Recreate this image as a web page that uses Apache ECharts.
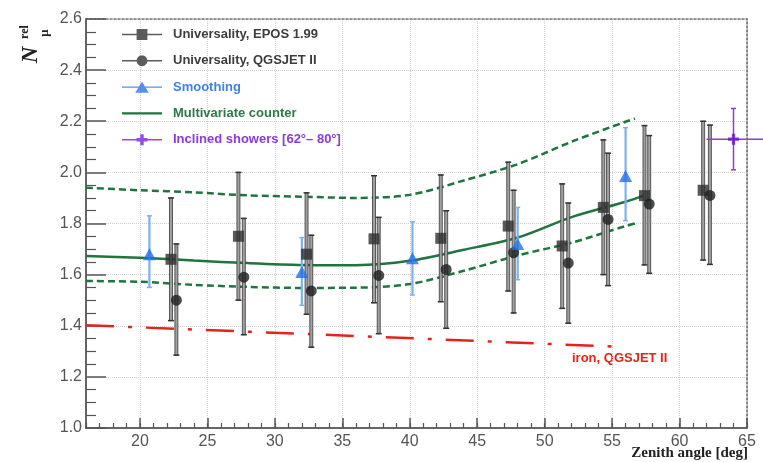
<!DOCTYPE html>
<html><head><meta charset="utf-8">
<script src="https://cdn.jsdelivr.net/npm/echarts@6/dist/echarts.min.js"></script>
<style>html,body{margin:0;padding:0;background:#fff}#c{width:763px;height:462px}</style>
</head><body><div id="c"></div>
<script>
// ---- data ----
const eposX  = [22.3, 27.3, 32.35, 37.35, 42.3, 47.3, 51.3, 54.35, 57.4, 61.75];
const eposY  = [1.66, 1.75, 1.68, 1.74, 1.742, 1.79, 1.712, 1.863, 1.909, 1.93];
const eposLo = [1.42, 1.50, 1.445, 1.49, 1.494, 1.536, 1.468, 1.60, 1.638, 1.657];
const eposHi = [1.90, 2.00, 1.92, 1.987, 1.99, 2.04, 1.955, 2.127, 2.183, 2.20];

const qgsX  = [22.7, 27.7, 32.7, 37.7, 42.7, 47.7, 51.75, 54.7, 57.75, 62.25];
const qgsY  = [1.50, 1.59, 1.536, 1.597, 1.62, 1.686, 1.645, 1.816, 1.876, 1.91];
const qgsLo = [1.285, 1.365, 1.316, 1.369, 1.39, 1.45, 1.41, 1.557, 1.605, 1.64];
const qgsHi = [1.72, 1.82, 1.754, 1.824, 1.85, 1.93, 1.88, 2.075, 2.144, 2.185];

const smoothX  = [20.7, 32.0, 40.2, 48.0, 56.0];
const smoothY  = [1.68, 1.61, 1.664, 1.72, 1.986];
const smoothLo = [1.55, 1.48, 1.52, 1.58, 1.811];
const smoothHi = [1.83, 1.745, 1.807, 1.863, 2.175];

const inclX = [64.0], inclY = [2.13], inclYLo = [2.01], inclYHi = [2.25], inclXLo = [62.0], inclXHi = [80];

const mvX     = [16, 20, 24, 28, 32, 36, 40, 44, 48, 52, 56, 57.4];
const mvY     = [1.673, 1.666, 1.655, 1.645, 1.638, 1.637, 1.654, 1.697, 1.745, 1.825, 1.885, 1.91];
const mvBandX = [16, 20, 24, 28, 32, 36, 40, 44, 48, 52, 56, 56.7];
const mvUp    = [1.94, 1.93, 1.922, 1.91, 1.905, 1.90, 1.912, 1.968, 2.032, 2.12, 2.198, 2.21];
const mvDown  = [1.575, 1.572, 1.56, 1.552, 1.548, 1.549, 1.563, 1.615, 1.675, 1.725, 1.79, 1.80];

const ironX = [16, 36, 55.3];
const ironY = [1.402, 1.36, 1.318];

const xLabels = [20, 25, 30, 35, 40, 45, 50, 55, 60, 65];

// ---- helpers ----
const zip2 = (a, b) => a.map((v, i) => [v, b[i]]);
const zip3 = (a, b, c) => a.map((v, i) => [v, b[i], c[i]]);

function blackErr(params, api) {
  const x = api.value(0);
  const t = api.coord([x, api.value(2)]);
  const b = api.coord([x, api.value(1)]);
  return { type: 'group', children: [
    { type: 'rect', shape: { x: t[0] - 1.5, y: t[1], width: 3, height: b[1] - t[1] },
      style: { fill: '#a0a0a0', stroke: '#3a3a3a', lineWidth: 0.8 } },
    { type: 'line', shape: { x1: t[0] - 3, y1: t[1], x2: t[0] + 3, y2: t[1] }, style: { stroke: '#333', lineWidth: 1.5 } },
    { type: 'line', shape: { x1: b[0] - 3, y1: b[1], x2: b[0] + 3, y2: b[1] }, style: { stroke: '#333', lineWidth: 1.5 } }
  ]};
}
function blueErr(params, api) {
  const x = api.value(0);
  const t = api.coord([x, api.value(2)]);
  const b = api.coord([x, api.value(1)]);
  return { type: 'group', children: [
    { type: 'line', shape: { x1: t[0], y1: t[1], x2: b[0], y2: b[1] }, style: { stroke: '#7fb0ee', lineWidth: 2.2 } },
    { type: 'line', shape: { x1: t[0] - 2.5, y1: t[1], x2: t[0] + 2.5, y2: t[1] }, style: { stroke: '#7fb0ee', lineWidth: 1.5 } },
    { type: 'line', shape: { x1: b[0] - 2.5, y1: b[1], x2: b[0] + 2.5, y2: b[1] }, style: { stroke: '#7fb0ee', lineWidth: 1.5 } }
  ]};
}
function purpleErr(params, api) {
  const x = api.value(0), y = api.value(1);
  const t = api.coord([x, api.value(3)]);
  const b = api.coord([x, api.value(2)]);
  const l = api.coord([api.value(4), y]);
  const r = api.coord([api.value(5), y]);
  const c = '#8b3fd6';
  return { type: 'group', children: [
    { type: 'line', shape: { x1: t[0], y1: t[1], x2: b[0], y2: b[1] }, style: { stroke: c, lineWidth: 1.5 } },
    { type: 'line', shape: { x1: l[0], y1: l[1], x2: r[0], y2: r[1] }, style: { stroke: c, lineWidth: 1.5 } },
    { type: 'line', shape: { x1: t[0] - 2.5, y1: t[1], x2: t[0] + 2.5, y2: t[1] }, style: { stroke: c, lineWidth: 1.5 } },
    { type: 'line', shape: { x1: b[0] - 2.5, y1: b[1], x2: b[0] + 2.5, y2: b[1] }, style: { stroke: c, lineWidth: 1.5 } }
  ]};
}

// circle polygon for the legend icon
let circ = '';
for (let k = 0; k < 24; k++) {
  const a = k / 24 * Math.PI * 2;
  circ += (k === 0 ? 'M' : 'L') + (20 + 5.4 * Math.cos(a)).toFixed(2) + ',' + (6 + 5.4 * Math.sin(a)).toFixed(2);
}
circ += 'Z';

const crossPath = 'path://M3.5,0H6.5V3.5H10V6.5H6.5V10H3.5V6.5H0V3.5H3.5Z';
const icoSquare = 'path://M20,0L20,12M0,5.3H40V6.7H0Z M14.6,0.6H25.4V11.4H14.6Z';
const icoCircle = 'path://M20,0L20,12M0,5.3H40V6.7H0Z ' + circ;
const icoTri    = 'path://M20,0L20,12M0,5.3H40V6.7H0Z M20,0.3L26.7,11.7H13.3Z';
const icoLine   = 'path://M20,0L20,12M0,4.8H40V7.2H0Z';
const icoCross  = 'path://M20,0L20,12M0,5.3H40V6.7H0Z M18.3,0.5H21.7V4.3H25.5V7.7H21.7V11.5H18.3V7.7H14.5V4.3H18.3Z';

const FONT = '"Liberation Sans", Arial, sans-serif';
const chart = echarts.init(document.getElementById('c'));
chart.setOption({
  animation: false,
  backgroundColor: '#fff',
  grid: { left: 86, right: 16, top: 19, bottom: 34, containLabel: false },
  legend: {
    orient: 'vertical', left: 122, top: 28, padding: 0,
    itemWidth: 40, itemHeight: 12, itemGap: 13.3,
    textStyle: { fontFamily: FONT, fontSize: 13, fontWeight: 'bold', padding: [0, 0, 0, 6] },
    data: [
      { name: 'Universality, EPOS 1.99', icon: icoSquare, itemStyle: { color: '#333', borderWidth: 0 }, textStyle: { color: '#3d3d3d' } },
      { name: 'Universality, QGSJET II', icon: icoCircle, itemStyle: { color: '#333', borderWidth: 0 }, textStyle: { color: '#3d3d3d' } },
      { name: 'Smoothing', icon: icoTri, itemStyle: { color: '#2a74e6', borderWidth: 0 }, textStyle: { color: '#3f82e6' } },
      { name: 'Multivariate counter', icon: icoLine, itemStyle: { color: '#1f7440', borderWidth: 0 }, textStyle: { color: '#2b7a48' } },
      { name: 'Inclined showers [62°– 80°]', icon: icoCross, itemStyle: { color: '#7a22d0', borderWidth: 0 }, textStyle: { color: '#8a3ad8' } }
    ]
  },
  xAxis: [
    { type: 'value', min: 16, max: 65, splitNumber: 10, position: 'bottom',
      axisLine: { onZero: false, lineStyle: { color: '#666', width: 2 } },
      axisTick: { inside: true, length: 10, lineStyle: { color: '#555', width: 1.5 } },
      axisLabel: { showMinLabel: false, color: '#555', fontSize: 16, fontFamily: FONT, margin: 6,
        formatter: v => (xLabels.indexOf(v) >= 0 ? String(v) : '') },
      splitLine: { show: true, lineStyle: { color: '#d0d0d0', type: 'dotted', width: 1 } } },
    { type: 'value', min: 16, max: 65, interval: 1, position: 'bottom',
      axisLine: { show: false, onZero: false },
      axisTick: { inside: true, length: 5, lineStyle: { color: '#555', width: 1.2 } },
      axisLabel: { show: false }, splitLine: { show: false } },
    { type: 'value', min: 16, max: 65, position: 'top',
      axisLine: { show: true, onZero: false, lineStyle: { color: '#777', width: 1.5, type: [2, 2] } },
      axisTick: { show: false }, axisLabel: { show: false }, splitLine: { show: false } }
  ],
  yAxis: [
    { type: 'value', min: 1.0, max: 2.6, interval: 0.2, position: 'left',
      axisLine: { show: true, onZero: false, lineStyle: { color: '#666', width: 2 } },
      axisTick: { inside: true, length: 20, lineStyle: { color: '#555', width: 1.5 } },
      minorTick: { show: true, splitNumber: 4, length: 10, lineStyle: { color: '#555', width: 1.2 } },
      axisLabel: { color: '#555', fontSize: 16, fontFamily: FONT, margin: 4, formatter: v => v.toFixed(1) },
      splitLine: { show: true, lineStyle: { color: '#d0d0d0', type: 'dotted', width: 1 } } },
    { type: 'value', min: 1.0, max: 2.6, position: 'right',
      axisLine: { show: true, onZero: false, lineStyle: { color: '#666', width: 1.5, type: [2, 2] } },
      axisTick: { show: false }, axisLabel: { show: false }, splitLine: { show: false } }
  ],
  series: [
    { name: 'mvUp', type: 'line', data: zip2(mvBandX, mvUp), showSymbol: false, smooth: 0.3, z: 2,
      lineStyle: { color: '#1f7440', width: 2.5, type: [7, 4] }, itemStyle: { color: '#1f7440' } },
    { name: 'mvDown', type: 'line', data: zip2(mvBandX, mvDown), showSymbol: false, smooth: 0.3, z: 2,
      lineStyle: { color: '#1f7440', width: 2.5, type: [7, 4] }, itemStyle: { color: '#1f7440' } },
    { name: 'Multivariate counter', type: 'line', data: zip2(mvX, mvY), showSymbol: false, smooth: 0.3, z: 2,
      lineStyle: { color: '#1f7440', width: 2.5 }, itemStyle: { color: '#1f7440' } },
    { name: 'iron', type: 'line', data: zip2(ironX, ironY), showSymbol: false, z: 2,
      lineStyle: { color: '#e5231b', width: 2.5, type: [28, 14, 4, 14] }, itemStyle: { color: '#e5231b' } },
    { name: 'eposErr', type: 'custom', renderItem: blackErr, data: zip3(eposX, eposLo, eposHi), encode: { x: 0, y: [1, 2] }, z: 3 },
    { name: 'qgsErr', type: 'custom', renderItem: blackErr, data: zip3(qgsX, qgsLo, qgsHi), encode: { x: 0, y: [1, 2] }, z: 3 },
    { name: 'smoothErr', type: 'custom', renderItem: blueErr, data: zip3(smoothX, smoothLo, smoothHi), encode: { x: 0, y: [1, 2] }, z: 3 },
    { name: 'inclErr', type: 'custom', renderItem: purpleErr, clip: false,
      data: inclX.map((v, i) => [v, inclY[i], inclYLo[i], inclYHi[i], inclXLo[i], inclXHi[i]]),
      encode: { x: 0, y: 1 }, z: 3 },
    { name: 'Universality, EPOS 1.99', type: 'scatter', data: zip2(eposX, eposY), symbol: 'rect', symbolSize: 11, z: 5,
      itemStyle: { color: '#2e2e2e' } },
    { name: 'Universality, QGSJET II', type: 'scatter', data: zip2(qgsX, qgsY), symbol: 'circle', symbolSize: 11, z: 5,
      itemStyle: { color: '#1e1e1e' } },
    { name: 'Smoothing', type: 'scatter', data: zip2(smoothX, smoothY), symbol: 'triangle', symbolSize: [13, 12], z: 5,
      itemStyle: { color: '#1f6fe8' } },
    { name: 'Inclined showers [62°– 80°]', type: 'scatter', data: zip2(inclX, inclY), symbol: crossPath, symbolSize: 11, z: 5,
      itemStyle: { color: '#6a12c8' } }
  ],
  graphic: [
    { type: 'text', x: 31, y: 55, rotation: Math.PI / 2,
      style: { text: 'N', font: 'italic bold 23px "Liberation Serif", serif', fill: '#222', textAlign: 'center', textVerticalAlign: 'middle' } },
    { type: 'text', x: 25, y: 32, rotation: Math.PI / 2,
      style: { text: 'rel', font: 'bold 12px "Liberation Serif", serif', fill: '#222', textAlign: 'center', textVerticalAlign: 'middle' } },
    { type: 'text', x: 45, y: 33, rotation: Math.PI / 2,
      style: { text: 'μ', font: 'bold 13px "Liberation Serif", serif', fill: '#222', textAlign: 'center', textVerticalAlign: 'middle' } },
    { type: 'text', x: 748, y: 453,
      style: { text: 'Zenith angle [deg]', font: 'bold 15px "Liberation Serif", serif', fill: '#222', textAlign: 'right', textVerticalAlign: 'middle' } },
    { type: 'text', x: 572, y: 358,
      style: { text: 'iron, QGSJET II', font: 'bold 13px "Liberation Sans", Arial, sans-serif', fill: '#e5231b', textAlign: 'left', textVerticalAlign: 'middle' } }
  ]
});
</script></body></html>
